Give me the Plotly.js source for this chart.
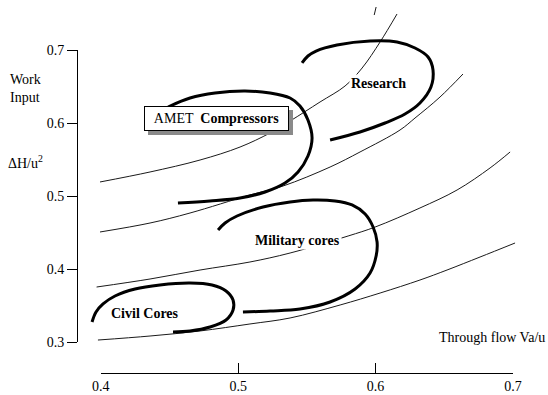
<!DOCTYPE html>
<html>
<head>
<meta charset="utf-8">
<script src="https://cdn.plot.ly/plotly-3.0.1.min.js"></script>
<style>html,body{margin:0;padding:0;background:#fff;}#chart{width:548px;height:395px;}</style>
</head>
<body>
<div id="chart"></div>
<script>
// ---- Axis tick values ----
const xTicks = [0.4, 0.5, 0.6, 0.7];
const xTickText = ['0.4', '0.5', '0.6', '0.7'];
const yTicks = [0.3, 0.4, 0.5, 0.6, 0.7];
const yTickText = ['0.3', '0.4', '0.5', '0.6', '0.7'];

// ---- Thin guide curves (Va/u, ΔH/u²) ----
const line1X = [0.3995, 0.4359, 0.4723, 0.5014, 0.5232, 0.5378, 0.5596, 0.5778, 0.5902, 0.6033, 0.6156];
const line1Y = [0.5192, 0.5329, 0.5493, 0.5671, 0.5863, 0.6027, 0.6288, 0.6507, 0.6753, 0.7110, 0.7493];
const line2X = [0.3995, 0.4359, 0.4650, 0.5086, 0.5327, 0.5669, 0.5887, 0.6178, 0.6287, 0.6469, 0.6636];
const line2Y = [0.4507, 0.4630, 0.4767, 0.5014, 0.5137, 0.5397, 0.5603, 0.5904, 0.6068, 0.6356, 0.6671];
const line3X = [0.3970, 0.4359, 0.4723, 0.5086, 0.5378, 0.5800, 0.5997, 0.6323, 0.6593, 0.6833, 0.6979];
const line3Y = [0.3753, 0.3863, 0.3986, 0.4096, 0.4219, 0.4452, 0.4575, 0.4836, 0.5082, 0.5384, 0.5603];
const line4X = [0.3980, 0.4359, 0.4723, 0.5086, 0.5378, 0.5742, 0.6033, 0.6323, 0.6520, 0.6760, 0.7015];
const line4Y = [0.3027, 0.3082, 0.3151, 0.3247, 0.3329, 0.3507, 0.3671, 0.3849, 0.3986, 0.4164, 0.4356];
const stubX = [0.5990, 0.6004];
const stubY = [0.7479, 0.7589];

// ---- Thick regions ----
const researchX = [0.5465, 0.5508, 0.5567, 0.5719, 0.5960, 0.6156, 0.6287, 0.6382, 0.6418, 0.6403, 0.6323, 0.6214, 0.6069, 0.5887, 0.5669];
const researchY = [0.6822, 0.6918, 0.6986, 0.7068, 0.7123, 0.7110, 0.7027, 0.6904, 0.6726, 0.6493, 0.6274, 0.6123, 0.6000, 0.5877, 0.5767];
const ametX = [0.4490, 0.4650, 0.4832, 0.5050, 0.5232, 0.5378, 0.5450, 0.5508, 0.5538, 0.5508, 0.5436, 0.5341, 0.5196, 0.5014, 0.4795, 0.4562];
const ametY = [0.6219, 0.6342, 0.6411, 0.6438, 0.6411, 0.6342, 0.6233, 0.6041, 0.5795, 0.5548, 0.5329, 0.5178, 0.5055, 0.4973, 0.4932, 0.4904];
const militaryX = [0.4854, 0.4905, 0.4992, 0.5181, 0.5378, 0.5545, 0.5705, 0.5829, 0.5924, 0.5982, 0.6011, 0.6004, 0.5960, 0.5851, 0.5669, 0.5450, 0.5232, 0.5035];
const militaryY = [0.4534, 0.4630, 0.4726, 0.4849, 0.4918, 0.4945, 0.4932, 0.4877, 0.4753, 0.4575, 0.4370, 0.4178, 0.3945, 0.3726, 0.3548, 0.3452, 0.3425, 0.3411];
const civilX = [0.3937, 0.3966, 0.4017, 0.4104, 0.4250, 0.4431, 0.4650, 0.4810, 0.4912, 0.4963, 0.4963, 0.4912, 0.4795, 0.4650, 0.4526];
const civilY = [0.3274, 0.3411, 0.3521, 0.3630, 0.3726, 0.3781, 0.3808, 0.3781, 0.3699, 0.3575, 0.3438, 0.3301, 0.3205, 0.3151, 0.3137];

// ---- Labels ----
const regionLabels = ['Research', 'Military cores', 'Civil Cores'];
const boxLabel = 'AMET  <b>Compressors</b>';
const yTitleTop = 'Work<br>Input';
const yTitleBottom = 'ΔH/u<sup>2</sup>';
const xTitle = 'Through flow Va/u';

// ---- Geometry (pixel layout of the reference) ----
const W = 548, H = 395;
const px0 = 100.7, px1 = 513;   // x = 0.4 .. 0.7
const py0 = 342, py1 = 50;      // y = 0.3 .. 0.7
const sx = (px1 - px0) / 0.3, sy = (py0 - py1) / 0.4;
const xr = [0.4 - px0 / sx, 0.4 + (W - px0) / sx];
const yr = [0.3 - (H - py0) / sy, 0.3 + py0 / sy];
const PX = p => p / W, PY = p => 1 - p / H;

const FONT = 'Liberation Serif, Times New Roman, serif';
const thin = { color: '#1a1a1a', width: 1, shape: 'spline', smoothing: 1 };
const thick = { color: '#000', width: 3, shape: 'spline', smoothing: 1 };

function tr(x, y, line, onAxes2) {
  const t = { x, y, type: 'scatter', mode: 'lines', line, hoverinfo: 'skip', showlegend: false };
  if (onAxes2) { t.xaxis = 'x2'; t.yaxis = 'y2'; }
  return t;
}

const data = [
  tr(line1X, line1Y, thin), tr(line2X, line2Y, thin), tr(line3X, line3Y, thin), tr(line4X, line4Y, thin),
  tr(stubX, stubY, thin),
  tr(researchX, researchY, thick), tr(ametX, ametY, thick, true), tr(militaryX, militaryY, thick, true), tr(civilX, civilY, thick)
];

const lbl = (text, cx, cy, extra) => Object.assign({
  text, xref: 'paper', yref: 'paper', x: PX(cx), y: PY(cy), showarrow: false,
  xanchor: 'center', yanchor: 'middle', font: { family: FONT, size: 14, color: '#000' }
}, extra || {});

const layout = {
  width: W, height: H,
  margin: { l: 0, r: 0, t: 0, b: 0, pad: 0 },
  paper_bgcolor: '#fff', plot_bgcolor: 'rgba(0,0,0,0)',
  showlegend: false,
  xaxis: { range: xr, visible: false, fixedrange: true },
  yaxis: { range: yr, visible: false, fixedrange: true },
  xaxis2: {
    domain: [PX(px0), PX(px1)], range: [0.4, 0.7], anchor: 'free', position: PY(373),
    tickvals: xTicks, ticktext: xTickText, ticks: 'inside', ticklen: 10, tickcolor: '#000', tickwidth: 1,
    showline: true, linecolor: '#000', linewidth: 1, showgrid: false, zeroline: false, automargin: false,
    tickfont: { family: FONT, size: 14, color: '#000' }, fixedrange: true
  },
  yaxis2: {
    domain: [PY(py0), PY(py1)], range: [0.3, 0.7], anchor: 'free', position: PX(77),
    tickvals: yTicks, ticktext: yTickText, ticks: 'outside', ticklen: 10, tickcolor: '#000', tickwidth: 1,
    showline: true, linecolor: '#000', linewidth: 1, showgrid: false, zeroline: false, automargin: false,
    tickfont: { family: FONT, size: 14, color: '#000' }, fixedrange: true
  },
  shapes: [
    { type: 'rect', xref: 'paper', yref: 'paper', x0: PX(148), x1: PX(293), y0: PY(135), y1: PY(110),
      fillcolor: '#8a8a8a', line: { width: 0 } }
  ],
  annotations: [
    lbl('<b>' + regionLabels[0] + '</b>', 378, 83, { bgcolor: '#fff', borderpad: 1 }),
    lbl('<b>' + regionLabels[1] + '</b>', 298, 240, { bgcolor: '#fff', borderpad: 1 }),
    lbl('<b>' + regionLabels[2] + '</b>', 145, 313),
    lbl(boxLabel, 216, 118.5, { width: 139, height: 19, borderpad: 2, bgcolor: '#fff', bordercolor: '#000', borderwidth: 1 }),
    lbl(yTitleTop, 8, 88.5, { xanchor: 'left', align: 'left' }),
    lbl(yTitleBottom, 6, 162, { xanchor: 'left', align: 'left' }),
    lbl(xTitle, 437, 337, { xanchor: 'left', align: 'left' })
  ]
};

Plotly.newPlot('chart', data, layout, { displayModeBar: false, staticPlot: true });
</script>
</body>
</html>
